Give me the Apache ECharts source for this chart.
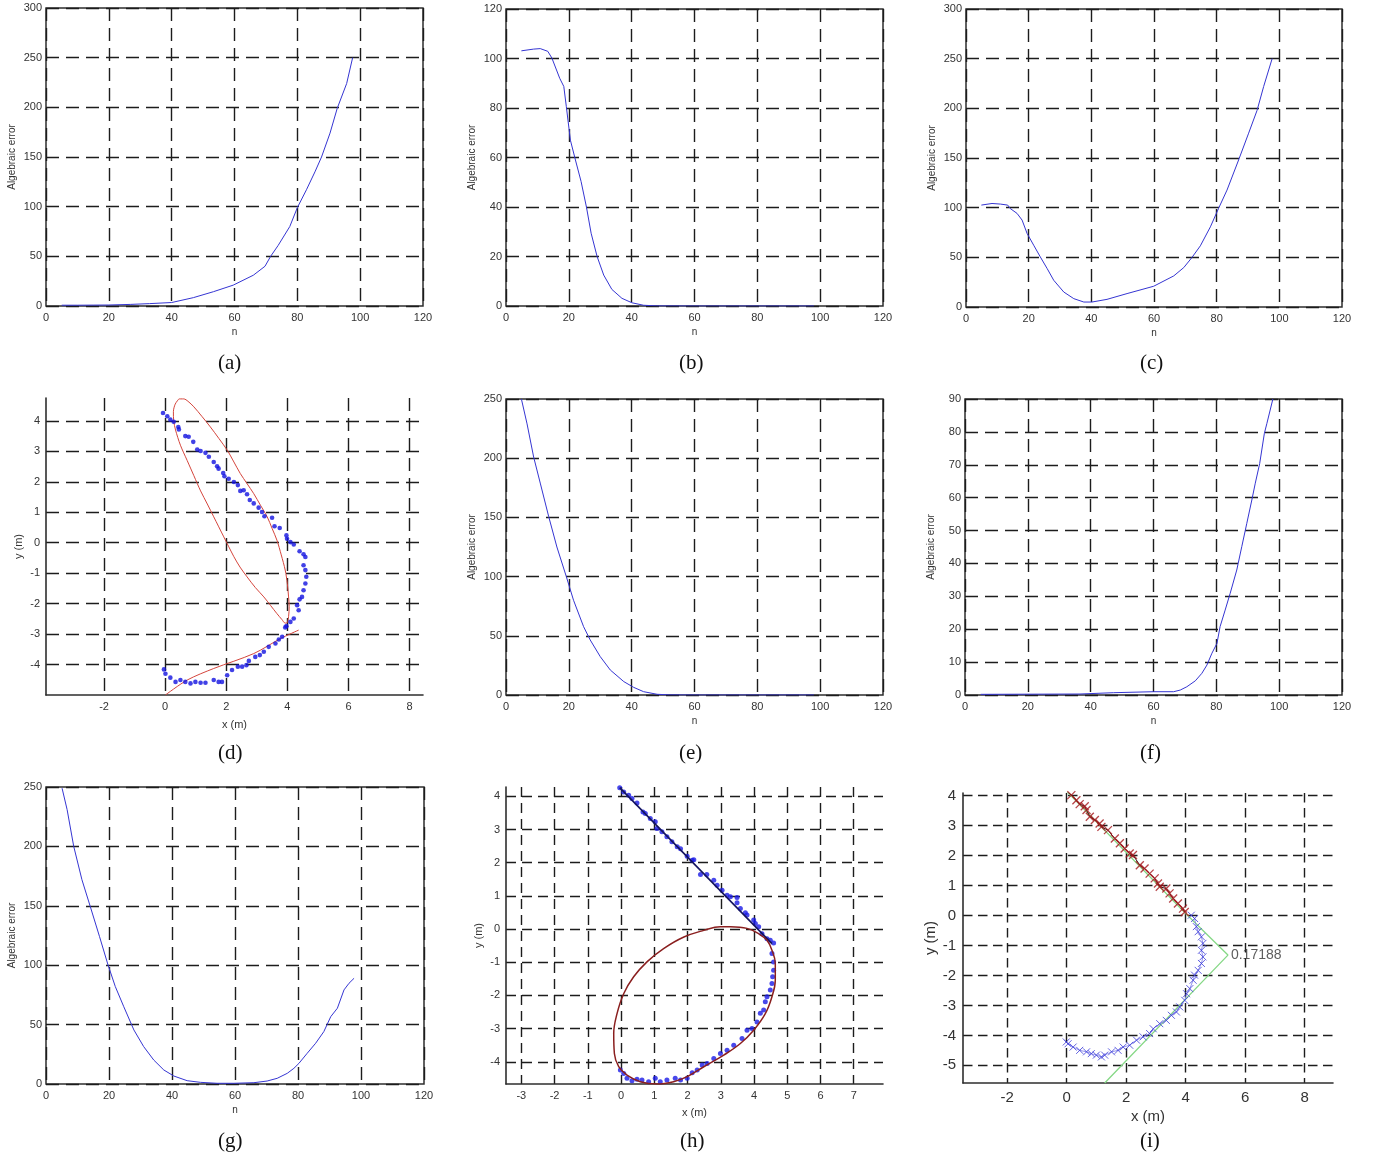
<!DOCTYPE html>
<html>
<head>
<meta charset="utf-8">
<script src="https://cdn.jsdelivr.net/npm/echarts@6/dist/echarts.min.js"></script>
<style>
html,body{margin:0;padding:0;background:#fff}
#chart{width:1377px;height:1158px}
</style>
</head>
<body>
<div id="chart"></div>
<script>
// ---- Algebraic error versus n, one array of [n, error] pairs per panel ----
const errA = [[5,0.8],[10,0.8],[15,0.9],[20,1],[26.8,1.6],[33,2.4],[40,3.5],[46.9,8.4],[53.3,14.4],[59.6,21],[66,31],[69.7,40],[71.5,50],[73.9,61],[77.6,80],[80,99],[82.9,117],[85.6,135],[87.7,150],[90.4,174],[92.7,199],[95.7,224],[97.6,250]];
const errB = [[4.9,103.1],[8.8,103.8],[10.9,104],[13.3,102.9],[14.6,100.2],[17.1,92],[18.4,88.7],[19.2,80.6],[20.5,67],[22.1,59],[23.9,50.3],[25.6,40],[27.1,29.4],[29,20],[31.1,12.5],[33.7,6.7],[36.9,3.1],[40.1,1.3],[43.8,0.3],[48,0.05],[60,0],[80,0],[98,0]];
const errC = [[4.9,102.6],[8.3,104.2],[11,103.6],[13.3,102.6],[14.1,99.2],[16.3,94.2],[17.9,87.5],[19.5,74],[21.6,62.2],[23.7,50.5],[25.9,38.7],[28,26.9],[31.2,15.1],[34.4,8.4],[37.6,5],[40.2,5],[45,7.7],[51.4,13.5],[59.9,20.9],[66.3,31.3],[69.5,39.7],[72.1,49.8],[74.8,61.6],[78,80.7],[80.6,99.2],[83.3,117.7],[87,148],[90.2,175],[92.9,198],[95,222],[97.7,250]];
const errE = [[4.9,250],[6.7,229],[8.8,201],[10.9,179],[13.6,150.6],[16.2,125],[19.2,100],[21.5,80],[24.7,57.7],[26.8,46.5],[30,32.4],[33.2,21.1],[37.5,11.3],[40.6,6.5],[43.8,2.8],[48.1,0.6],[52,0.1],[60,0],[80,0],[98,0]];
const errF = [[5,0.2],[36.6,0.3],[47.3,0.7],[60,1.0],[66.4,1.0],[68.5,1.5],[70.6,2.5],[73.3,4.3],[75.4,6.6],[77,9.1],[78.6,12.7],[80.2,15.7],[81.2,20.8],[82.8,25.8],[84.4,30.9],[86.5,38],[88.1,45.1],[89.7,52.2],[91.3,59.3],[92.4,64.4],[93.8,70.4],[95.3,79.6],[96.1,82.6],[98,90]];
const errG = [[5.1,249],[6.7,231],[8.8,200],[11.4,172],[14.1,149],[17,124],[19.6,101],[22,82],[24.7,65],[27.9,45.5],[31,31.5],[34.2,20.2],[37.4,11.8],[40.6,6.7],[44.8,2.8],[49,1.4],[54.3,0.6],[59.6,0.6],[66,1.1],[70.2,2.5],[73.4,4.8],[76.6,9],[78.7,13.2],[80.3,17.4],[82.9,25.8],[85.6,34.3],[88.2,44.1],[90.4,56.7],[92.5,63.8],[94.6,79.2],[96.2,84.8],[97.8,89]];

// ---- (d) measured points, fitted ellipse and lower conic branch ----
const dPts = [[-0.07,4.26],[0.07,4.15],[0.17,4.04],[0.28,3.97],[0.43,3.8],[0.45,3.72],[0.66,3.5],[0.77,3.48],[0.92,3.31],[1.05,3.06],[1.16,3.01],[1.32,2.95],[1.43,2.82],[1.59,2.65],[1.7,2.51],[1.75,2.43],[1.9,2.29],[1.94,2.18],[2.08,2.1],[2.25,1.99],[2.38,1.89],[2.46,1.7],[2.57,1.72],[2.68,1.59],[2.77,1.4],[2.9,1.29],[3.06,1.15],[3.17,1.01],[3.25,0.87],[3.5,0.82],[3.58,0.54],[3.75,0.48],[3.97,0.24],[3.99,0.13],[4.1,0.02],[4.21,-0.06],[4.4,-0.28],[4.53,-0.38],[4.59,-0.47],[4.53,-0.74],[4.59,-0.9],[4.62,-1.12],[4.59,-1.34],[4.53,-1.56],[4.48,-1.78],[4.4,-1.86],[4.32,-2.05],[4.37,-2.22],[4.21,-2.49],[4.1,-2.6],[3.97,-2.74],[3.93,-2.78],[3.83,-3.09],[3.72,-3.18],[3.61,-3.31],[3.39,-3.42],[3.23,-3.58],[3.1,-3.69],[2.95,-3.75],[2.74,-3.88],[2.66,-4.02],[2.52,-4.07],[2.38,-4.07],[2.19,-4.18],[2.03,-4.35],[1.86,-4.57],[1.75,-4.57],[1.59,-4.51],[1.32,-4.6],[1.16,-4.6],[0.99,-4.57],[0.83,-4.62],[0.66,-4.57],[0.5,-4.51],[0.34,-4.57],[0.17,-4.43],[0.01,-4.3],[-0.04,-4.16]];
const dEllipse = [[0.45,4.72],[0.33,4.55],[0.27,4.3],[0.28,4.0],[0.34,3.7],[0.5,3.2],[0.72,2.7],[0.94,2.2],[1.16,1.7],[1.38,1.27],[1.59,0.85],[1.92,0.19],[2.25,-0.46],[2.45,-0.8],[2.68,-1.12],[2.95,-1.47],[3.23,-1.78],[3.45,-2.06],[3.66,-2.33],[3.82,-2.52],[3.93,-2.64],[4.0,-2.62],[4.04,-2.43],[4.06,-2.1],[4.04,-1.78],[4.0,-1.35],[3.93,-0.9],[3.8,-0.4],[3.66,0.08],[3.5,0.47],[3.34,0.85],[3.12,1.23],[2.9,1.61],[2.68,1.94],[2.46,2.27],[2.25,2.65],[2.03,3.04],[1.76,3.42],[1.48,3.8],[1.2,4.15],[0.94,4.46],[0.75,4.64],[0.61,4.72],[0.45,4.72]];
const dArc = [[0.01,-5.0],[0.72,-4.51],[1.59,-4.13],[2.9,-3.64],[3.77,-3.15],[4.37,-2.87]];

// ---- (h) measured points, fitted straight segment and fitted ellipse ----
const hPts = [[-0.04,4.26],[0.08,4.13],[0.23,4.03],[0.33,3.93],[0.48,3.8],[0.66,3.53],[0.73,3.48],[0.88,3.33],[1.03,3.23],[1.08,3.03],[1.23,2.93],[1.38,2.78],[1.53,2.63],[1.69,2.48],[1.79,2.42],[1.99,2.19],[2.14,2.07],[2.19,2.09],[2.39,1.64],[2.58,1.64],[2.79,1.47],[2.89,1.32],[3.04,1.17],[3.19,1.02],[3.29,0.97],[3.49,0.95],[3.49,0.79],[3.59,0.62],[3.74,0.49],[3.79,0.42],[3.99,0.27],[4.04,0.17],[4.14,0.07],[4.24,-0.14],[4.39,-0.29],[4.49,-0.34],[4.59,-0.42],[4.54,-0.74],[4.59,-0.99],[4.59,-1.24],[4.56,-1.44],[4.54,-1.64],[4.49,-1.84],[4.39,-2.04],[4.34,-2.19],[4.29,-2.44],[4.19,-2.54],[4.09,-2.8],[3.94,-3.0],[3.79,-3.05],[3.64,-3.3],[3.39,-3.5],[3.19,-3.65],[2.99,-3.75],[2.79,-3.9],[2.59,-4.05],[2.44,-4.1],[2.29,-4.25],[2.14,-4.33],[1.99,-4.5],[1.79,-4.55],[1.63,-4.5],[1.38,-4.55],[1.18,-4.6],[1.03,-4.5],[0.83,-4.6],[0.63,-4.55],[0.48,-4.53],[0.33,-4.57],[0.18,-4.5],[0.08,-4.35],[-0.02,-4.25]];
const hSegment = [[-0.04,4.26],[4.54,-0.44]];
const hEllipse = [[3.29,0.07],[3.79,0.02],[4.14,-0.14],[4.39,-0.34],[4.54,-0.64],[4.64,-1.04],[4.64,-1.54],[4.54,-2.04],[4.34,-2.55],[3.99,-3.05],[3.59,-3.45],[3.09,-3.8],[2.49,-4.15],[1.99,-4.45],[1.58,-4.6],[1.08,-4.67],[0.58,-4.6],[0.18,-4.4],[-0.07,-4.15],[-0.2,-3.75],[-0.22,-3.15],[-0.12,-2.55],[0.08,-1.95],[0.38,-1.44],[0.78,-0.99],[1.28,-0.59],[1.89,-0.24],[2.49,-0.04],[2.99,0.07],[3.29,0.07]];

// ---- (i) straight part (red), curved part (blue), corner polyline (green) ----
const iRed = [[-0.06,4.21],[0.16,4.02],[0.33,3.85],[0.44,3.72],[0.61,3.65],[0.67,3.52],[0.78,3.3],[0.95,3.19],[1.11,3.07],[1.17,2.96],[1.39,2.85],[1.62,2.57],[1.79,2.41],[1.95,2.24],[2.12,2.07],[2.23,2.02],[2.46,1.68],[2.62,1.57],[2.79,1.4],[2.96,1.24],[3.07,1.07],[3.13,0.96],[3.35,0.9],[3.46,0.74],[3.58,0.57],[3.74,0.4],[3.91,0.23],[3.97,0.12]];
const iBlue = [[4.19,0.01],[4.3,-0.1],[4.36,-0.37],[4.42,-0.54],[4.53,-0.71],[4.58,-0.93],[4.53,-1.16],[4.58,-1.38],[4.53,-1.6],[4.42,-1.83],[4.3,-1.99],[4.25,-2.16],[4.14,-2.44],[4.03,-2.61],[3.97,-2.83],[3.8,-3.05],[3.69,-3.22],[3.52,-3.33],[3.35,-3.5],[3.13,-3.61],[2.91,-3.78],[2.79,-3.94],[2.57,-4.05],[2.35,-4.16],[2.12,-4.33],[1.9,-4.39],[1.73,-4.5],[1.51,-4.55],[1.28,-4.66],[1.17,-4.72],[1.0,-4.66],[0.83,-4.61],[0.67,-4.55],[0.44,-4.5],[0.22,-4.39],[0.05,-4.28],[-0.01,-4.22]];
const iCorner = [[-0.05,4.2],[4.05,0.02],[5.42,-1.32],[1.28,-5.59]];
const iCornerValue = [[5.42,-1.32,'0.17188']];

// ---- tick values and captions ----
const nTicks = [0,20,40,60,80,100,120];
const dXTicks = [-2,0,2,4,6,8], dYTicks = [-4,-3,-2,-1,0,1,2,3,4];
const hXTicks = [-3,-2,-1,0,1,2,3,4,5,6,7], hYTicks = [-4,-3,-2,-1,0,1,2,3,4];
const iXTicks = [-2,0,2,4,6,8], iYTicks = [-5,-4,-3,-2,-1,0,1,2,3,4];
const captions = ['(a)','(b)','(c)','(d)','(e)','(f)','(g)','(h)','(i)'];

// ---- layout ----
const boxes = {
  a:{left:46,top:8,width:377,height:298},
  b:{left:506,top:9,width:377,height:297},
  c:{left:966,top:9,width:376,height:298},
  d:{left:46,top:398,width:377,height:297},
  e:{left:506,top:399,width:377,height:296},
  f:{left:965,top:399,width:377,height:296},
  g:{left:46,top:787,width:378,height:297},
  h:{left:506,top:787,width:377,height:297},
  i:{left:963,top:793,width:370,height:290}
};
const captionPos = [[232,365],[693,365],[1154,365],[232,755],[693,755],[1154,755],[232,1143],[694,1143],[1154,1143]];

const SANS = '"Liberation Sans", Arial, sans-serif';
const INK = '#333';
const GRIDC = '#1c1c1c';
const FRAME = '#2e2e2e';

const grid = [], xAxis = [], yAxis = [], series = [];

function dashed(dash) {
  return {show:true, lineStyle:{color:GRIDC, width:1.4, type:dash}};
}

// Line panels: boxed axes, n on x, algebraic error on y
function errorPanel(key, data, ymax, ystep) {
  const gi = grid.length;
  grid.push(Object.assign({show:true, borderColor:FRAME, borderWidth:1.5, backgroundColor:'transparent', containLabel:false}, boxes[key]));
  xAxis.push({
    type:'value', gridIndex:gi, min:nTicks[0], max:nTicks[nTicks.length-1], interval:nTicks[1]-nTicks[0],
    axisLine:{show:false}, axisTick:{show:false},
    splitLine:dashed([13,7]),
    axisLabel:{color:INK, fontSize:11, fontFamily:SANS, margin:6, showMinLabel:true, showMaxLabel:true},
    name:'n', nameLocation:'middle', nameGap:21, nameTextStyle:{color:INK, fontSize:10, fontFamily:SANS}
  });
  yAxis.push({
    type:'value', gridIndex:gi, min:0, max:ymax, interval:ystep,
    axisLine:{show:false}, axisTick:{show:false},
    splitLine:dashed([13,7]),
    axisLabel:{color:INK, fontSize:11, fontFamily:SANS, margin:4, showMinLabel:true, showMaxLabel:true},
    name:'Algebraic error', nameLocation:'middle', nameGap:29, nameRotate:90,
    nameTextStyle:{color:INK, fontSize:10, fontFamily:SANS}
  });
  series.push({
    type:'line', xAxisIndex:gi, yAxisIndex:gi, data:data, showSymbol:false, smooth:false,
    lineStyle:{color:'#3535d2', width:1}, clip:true, silent:true
  });
}

// Position panels: left/bottom axis lines, metres on both axes
function positionPanel(key, xr, yr, xt, yt, opt) {
  const gi = grid.length;
  grid.push(Object.assign({show:false, containLabel:false}, boxes[key]));
  const fs = opt.fontSize, dash = opt.dash;
  xAxis.push({
    type:'value', gridIndex:gi, min:xr[0], max:xr[1],
    axisLine:{show:true, onZero:false, lineStyle:{color:FRAME, width:1.6}},
    axisTick:{show:false, customValues:xt},
    splitLine:dashed(dash),
    axisLabel:{color:INK, fontSize:fs, fontFamily:SANS, margin:opt.margin, customValues:xt},
    name:'x (m)', nameLocation:'middle', nameGap:opt.nameGap,
    nameTextStyle:{color:INK, fontSize:fs, fontFamily:SANS}
  });
  yAxis.push({
    type:'value', gridIndex:gi, min:yr[0], max:yr[1],
    axisLine:{show:true, onZero:false, lineStyle:{color:FRAME, width:1.6}},
    axisTick:{show:false, customValues:yt},
    splitLine:dashed(dash),
    axisLabel:{color:INK, fontSize:fs, fontFamily:SANS, margin:opt.margin, customValues:yt},
    name:'y (m)', nameLocation:'middle', nameGap:opt.nameGapY, nameRotate:90,
    nameTextStyle:{color:INK, fontSize:fs, fontFamily:SANS}
  });
  return gi;
}

errorPanel('a', errA, 300, 50);
errorPanel('b', errB, 120, 20);
errorPanel('c', errC, 300, 50);

// (d)
const gd = positionPanel('d', [-3.9,8.44], [-5,4.75], dXTicks, dYTicks, {fontSize:11, dash:[13,7], margin:6, nameGap:24, nameGapY:22});
series.push({type:'line', xAxisIndex:gd, yAxisIndex:gd, data:dEllipse, smooth:0.3, showSymbol:false, lineStyle:{color:'#d4453c', width:1}, silent:true, z:3});
series.push({type:'line', xAxisIndex:gd, yAxisIndex:gd, data:dArc, smooth:0.3, showSymbol:false, lineStyle:{color:'#d4453c', width:1}, silent:true, z:3});
series.push({type:'scatter', xAxisIndex:gd, yAxisIndex:gd, data:dPts, symbol:'circle', symbolSize:4.6, itemStyle:{color:'#1212e0'}, silent:true, z:4});

errorPanel('e', errE, 250, 50);
errorPanel('f', errF, 90, 10);
errorPanel('g', errG, 250, 50);

// (h)
const gh = positionPanel('h', [-3.46,7.88], [-4.67,4.28], hXTicks, hYTicks, {fontSize:11, dash:[10,6], margin:6, nameGap:23, nameGapY:22});
series.push({type:'scatter', xAxisIndex:gh, yAxisIndex:gh, data:hPts, symbol:'circle', symbolSize:5, itemStyle:{color:'#1a1ae6'}, silent:true, z:3});
series.push({type:'line', xAxisIndex:gh, yAxisIndex:gh, data:hSegment, showSymbol:false, lineStyle:{color:'#14145e', width:1.6}, silent:true, z:4});
series.push({type:'line', xAxisIndex:gh, yAxisIndex:gh, data:hEllipse, smooth:0.4, showSymbol:false, lineStyle:{color:'#8a1f1f', width:1.5}, silent:true, z:4});

// (i)
const gi9 = positionPanel('i', [-3.48,8.95], [-5.59,4.09], iXTicks, iYTicks, {fontSize:15, dash:[9.5,5.5], margin:7, nameGap:26, nameGapY:25});
const cross = 'path://M0,0L10,10M10,0L0,10';
series.push({type:'line', xAxisIndex:gi9, yAxisIndex:gi9, data:iCorner, showSymbol:false, lineStyle:{color:'#86d886', width:1.3}, silent:true, z:2});
series.push({type:'line', xAxisIndex:gi9, yAxisIndex:gi9, data:iRed, showSymbol:false, lineStyle:{color:'#2a1010', width:1}, silent:true, z:3});
series.push({type:'scatter', xAxisIndex:gi9, yAxisIndex:gi9, data:iRed, symbol:cross, symbolSize:8, itemStyle:{color:'none', borderColor:'#a5161c', borderWidth:1.3}, silent:true, z:4});
series.push({type:'line', xAxisIndex:gi9, yAxisIndex:gi9, data:iBlue, showSymbol:false, lineStyle:{color:'#7a7ae8', width:0.8}, silent:true, z:3});
series.push({type:'scatter', xAxisIndex:gi9, yAxisIndex:gi9, data:iBlue, symbol:cross, symbolSize:7, itemStyle:{color:'none', borderColor:'#3b3bd8', borderWidth:1}, silent:true, z:4});
series.push({type:'scatter', xAxisIndex:gi9, yAxisIndex:gi9, data:iCornerValue, symbolSize:0, silent:true, z:5,
  label:{show:true, position:'right', distance:3, color:'#333', fontSize:14, fontFamily:SANS, formatter:p => p.value[2]}});

const graphic = captions.map((t, k) => ({
  type:'text', left:captionPos[k][0] - 14, top:captionPos[k][1] - 12, silent:true,
  style:{text:t, font:'21px "Liberation Serif", "Times New Roman", serif', fill:'#111'}
}));

const chart = echarts.init(document.getElementById('chart'), null, {renderer:'canvas'});
chart.setOption({
  animation:false,
  backgroundColor:'#fff',
  grid, xAxis, yAxis, series, graphic
});
</script>
</body>
</html>
